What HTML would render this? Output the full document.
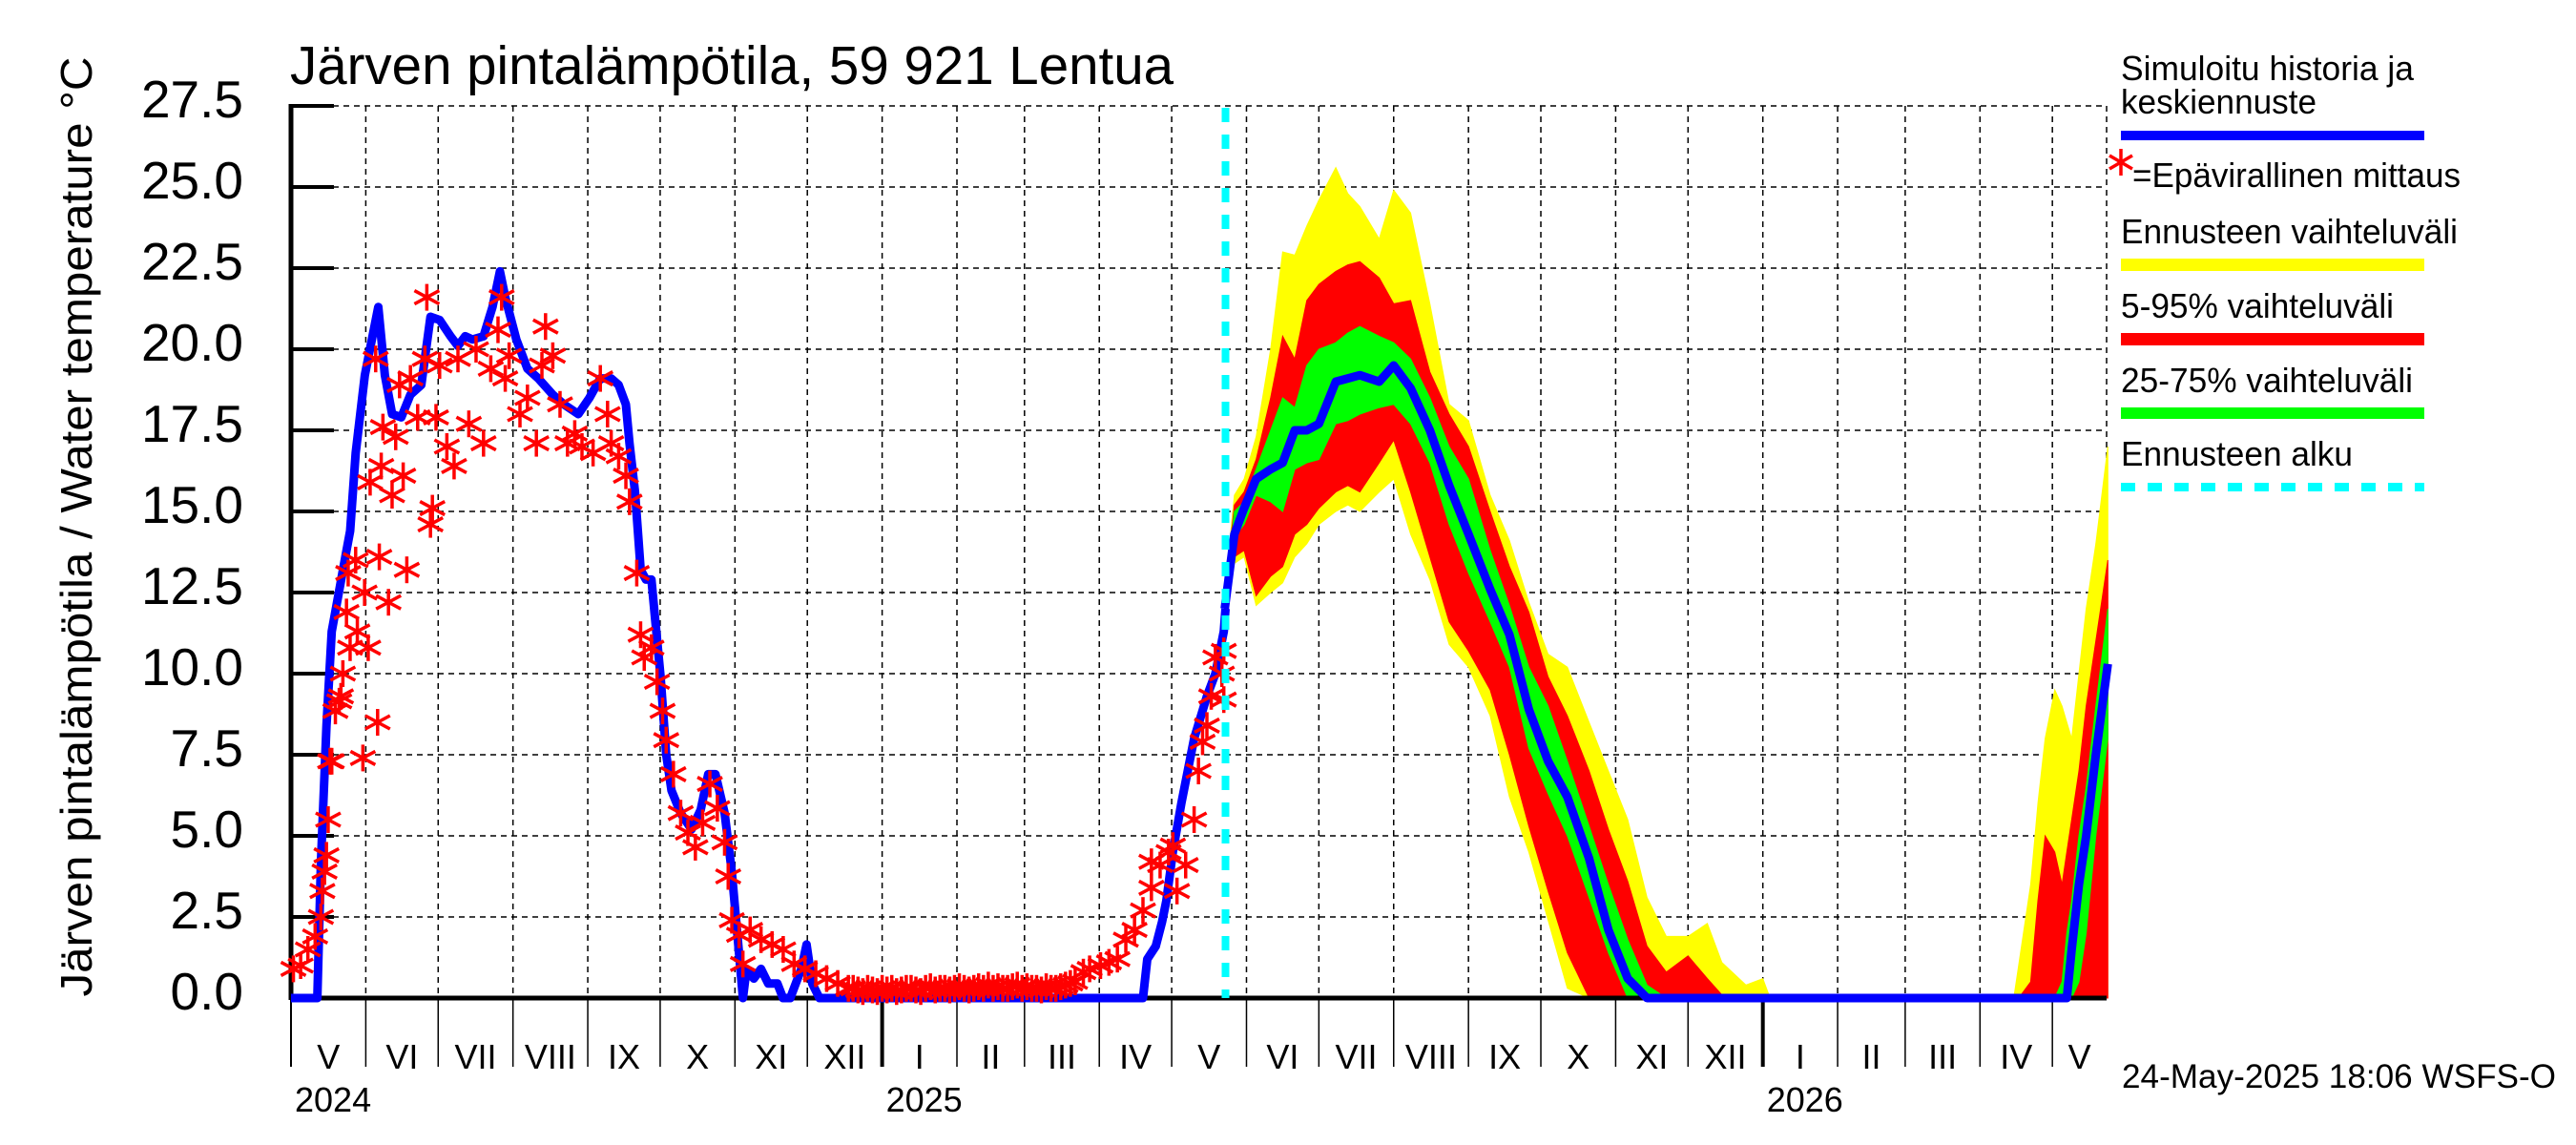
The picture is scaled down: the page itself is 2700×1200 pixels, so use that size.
<!DOCTYPE html>
<html><head><meta charset="utf-8"><style>
html,body{margin:0;padding:0;background:#fff}
svg{display:block}
text{font-family:"Liberation Sans",Arial,sans-serif;fill:#000}
</style></head><body>
<svg id="chart" xmlns="http://www.w3.org/2000/svg" width="2700" height="1200" viewBox="0 0 2700 1200">
<rect x="0" y="0" width="2700" height="1200" fill="#fff"/>
<text x="304" y="88" font-size="57" textLength="926" lengthAdjust="spacingAndGlyphs">Järven pintalämpötila, 59 921 Lentua</text>
<text x="0" y="0" font-size="46" text-anchor="middle" textLength="985" lengthAdjust="spacingAndGlyphs" transform="translate(96,552) rotate(-90)">Järven pintalämpötila / Water temperature °C</text>
<g id="grid"></g>
<g id="bands"></g>
<g id="axes"></g>
<g id="series"></g>
<g id="stars"></g>
<g id="labels"></g>
<line x1="1284.5" y1="113" x2="1284.5" y2="1046" stroke="#00ffff" stroke-width="8" stroke-dasharray="15 13"/>
<text x="2224" y="1140" font-size="35" textLength="455" lengthAdjust="spacingAndGlyphs">24-May-2025 18:06 WSFS-O</text>
<g>
<text x="2223" y="84" font-size="36" textLength="307" lengthAdjust="spacingAndGlyphs">Simuloitu historia ja</text>
<text x="2223" y="119" font-size="36" textLength="205" lengthAdjust="spacingAndGlyphs">keskiennuste</text>
<rect x="2223" y="137" width="318" height="10" fill="#0000ff"/>
<g stroke="#ff0000" stroke-width="3.5">
<line x1="2223" y1="156" x2="2223" y2="184"/><line x1="2211" y1="163" x2="2235" y2="177"/><line x1="2211" y1="177" x2="2235" y2="163"/></g>
<text x="2235" y="196" font-size="36" textLength="344" lengthAdjust="spacingAndGlyphs">=Epävirallinen mittaus</text>
<text x="2223" y="255" font-size="36" textLength="353" lengthAdjust="spacingAndGlyphs">Ennusteen vaihteluväli</text>
<rect x="2223" y="271" width="318" height="13" fill="#ffff00"/>
<text x="2223" y="333" font-size="36" textLength="286" lengthAdjust="spacingAndGlyphs">5-95% vaihteluväli</text>
<rect x="2223" y="349" width="318" height="13" fill="#ff0000"/>
<text x="2223" y="411" font-size="36" textLength="306" lengthAdjust="spacingAndGlyphs">25-75% vaihteluväli</text>
<rect x="2223" y="427" width="318" height="12" fill="#00ff00"/>
<text x="2223" y="488" font-size="36" textLength="243" lengthAdjust="spacingAndGlyphs">Ennusteen alku</text>
<line x1="2223" y1="510.5" x2="2541" y2="510.5" stroke="#00ffff" stroke-width="9" stroke-dasharray="15 13"/>
</g>
</svg>
<script>
// ---- data (days since 2024-05-01) ----
const yTicks = [0, 2.5, 5, 7.5, 10, 12.5, 15, 17.5, 20, 22.5, 25, 27.5];
const yTickLabels = ["0.0","2.5","5.0","7.5","10.0","12.5","15.0","17.5","20.0","22.5","25.0","27.5"];
const monthLabels = ["I","II","III","IV","V","VI","VII","VIII","IX","X","XI","XII"];
const histDays = [0,10.9,12.4,14.7,16.9,23,24.5,26.8,30.6,36.2,38.9,41.9,45.7,49.5,54,57.8,61.6,66.1,69.2,72.2,75.2,79.8,83.5,86.6,88.8,93.4,98,102.5,108.5,113.1,119.1,123.7,128.2,132.7,135.8,138.8,140.3,142.6,144.9,147.1,149.4,150.9,153.2,155.5,157.7,161.5,166,169.8,172.9,175.9,179.7,182.7,185,187.3,188.8,191.8,194.8,197.8,201.6,203.9,206.9,211.5,213.7,216,219,353.1,354.9,358.4,361,362.8,365.5,369,374.3,379.6,383.1,386.6,387.3];
const histVals = [0,0,4.2,8.4,11.3,13.8,14.4,16.8,19.2,21.3,19.2,18,17.9,18.6,18.9,21,20.9,20.4,20.1,20.4,20.3,20.4,21.3,22.4,21.6,20.3,19.4,19.1,18.6,18.3,18,18.5,19.1,19.1,18.9,18.3,17.1,15.6,13.2,12.9,12.9,11.7,9.9,7.5,6.4,5.7,5.2,5.8,6.9,6.9,5.7,3.9,1.95,0,0.9,0.6,0.9,0.45,0.45,0,0,0.9,1.65,0.45,0,0,1.2,1.6,2.35,3,4.5,6,8,9.3,10,11.3,12];
const obsDays = [1,4,7,10,12.4,13,13.9,14.7,15.4,16.9,16.2,18.4,20,20.7,21.5,23,24.5,27.5,32,29.8,35.9,23.7,26.8,30.5,36.6,40.4,48,57.8,58.6,32.8,37.4,41.9,46.5,35.1,38.1,43.4,45,49.5,56.3,55.5,52.5,61.6,60.1,64.6,67.6,69.2,73.7,76.7,79.8,82.8,85.8,87.3,90.4,88.8,94.9,98,101.7,104,105.5,108.5,111.5,114.6,117.6,120.6,125.2,128.2,131.2,132.7,135.8,138.8,140.3,143.3,144.9,146.4,149.4,151.7,154,155.5,158.5,161.5,164.5,167.6,170.6,173.6,176.7,179.7,181.2,182.7,185.7,187.3,190.3,194.8,199.4,204,208.5,213,217.5,222,226.6,231,
233,235,237,239,241,243,245,247,249,251,253,255,257,259,261,263,265,267,269,271,273,275,277,279,281,283,285,287,289,291,293,295,297,299,301,303,305,307,309,311,313,315,317,319,321,323,325,
328.4,331,335.5,339,342.5,346,349.6,353.1,356.6,360.2,363.7,367.2,370.8,374.3,376.1,377.8,379.6,381.4,383.1,385.8,386.6,386.6,356.6,365.5];
const obsVals = [0.9,1.0,1.5,1.9,2.5,3.3,3.9,4.4,5.5,7.3,7.3,8.85,9.15,9.3,10,11.9,10.8,11.3,10.8,7.4,8.5,13.1,13.5,12.5,13.6,12.2,13.2,14.6,15.1,15.9,16.4,15.5,16.1,19.7,17.6,17.3,18.9,19.1,21.6,19.7,17.9,19.5,17.9,17,16.4,19.7,17.7,20,17.1,19.4,20.6,21.6,19.8,19.1,18,18.5,17.1,19.5,20.7,19.8,18.3,17.1,17.4,17,16.8,19.1,18,17.1,16.7,16.1,15.3,13.1,11.2,10.5,10.8,9.75,8.85,7.95,6.9,5.7,5.1,4.65,5.4,6.6,5.85,4.8,3.75,2.4,1.95,1.05,2.1,1.8,1.65,1.5,1.05,0.9,0.75,0.6,0.45,0.3,
0.3,0.25,0.2,0.3,0.25,0.2,0.3,0.25,0.3,0.2,0.25,0.3,0.3,0.25,0.2,0.3,0.35,0.25,0.3,0.3,0.25,0.3,0.35,0.3,0.25,0.3,0.35,0.3,0.4,0.3,0.35,0.3,0.3,0.35,0.4,0.3,0.35,0.3,0.3,0.25,0.35,0.3,0.3,0.35,0.4,0.45,0.5,
0.8,0.9,1.0,1.1,1.2,1.8,2.1,2.7,3.4,4.1,4.5,3.3,4.1,5.5,7,7.9,8.4,9.3,10.5,10,9.2,10.7,4.2,4.7];
const fcDays = [387,391,395,400,406,411,416,421,426,433,438,443,451,457,464,472,480,488,497,505,513,521,529,538,546,554,562,570,579,587,593,603,610,613,700,714,716,721,724,727,731,734,736,738,741,744,748,753];
const fcYHi = [12.5,15.5,16,17.3,20,23,22.9,23.8,24.6,25.6,24.8,24.4,23.4,24.9,24.2,21.4,18.3,17.8,15.5,14.1,12.2,10.6,10.2,8.5,7,5.5,3.1,1.9,1.9,2.3,1.1,0.4,0.6,0,0,0,1,3.5,6,8,9.5,9,8.5,8,10,12,14,17];
const fcRHi = [12.4,15.2,15.6,16.6,18.5,20.4,19.7,21.5,22,22.4,22.6,22.7,22.2,21.4,21.5,19.3,18,17,15,13.3,11.9,9.9,8.7,7,5.2,3.6,1.6,0.8,1.3,0.6,0.1,0,0,0,0,0,0,0.5,3,5,4.5,3.5,4.5,5.5,7,9,11,13.5];
const fcGHi = [12.3,15,15.3,16.3,17.5,18.5,18.2,19.5,20,20.2,20.5,20.7,20.4,20.2,19.7,18.5,17,16,13.8,12.1,10.2,9,7.3,5.3,3.5,1.8,0.4,0,0,0,0,0,0,0,0,0,0,0,0,0,0,0.5,2,3,5,6.5,9,12];
const fcMed = [12,14.3,15.1,16,16.3,16.5,17.5,17.5,17.7,19,19.1,19.2,19,19.5,18.8,17.5,15.8,14.3,12.6,11.2,8.9,7.3,6.2,4.3,2.1,0.6,0,0,0,0,0,0,0,0,0,0,0,0,0,0,0,0,0,1.5,3.5,5,7.5,10.3];
const fcGLo = [11.9,14.2,14.6,15.5,15.3,15,16.3,16.5,16.6,17.7,17.8,18,18.2,18.3,17.7,16.5,14.6,13.1,11.6,10.2,7.7,6.3,5,3.1,1.4,0,0,0,0,0,0,0,0,0,0,0,0,0,0,0,0,0,0,0,0.5,2,5,8];
const fcRLo = [11.8,13.6,13.8,12.4,13,13.3,14.3,14.6,15.1,15.6,15.8,15.6,16.5,17.2,15.6,13.6,11.6,10.7,9.5,7.5,5.3,3.3,1.4,0,0,0,0,0,0,0,0,0,0,0,0,0,0,0,0,0,0,0,0,0,0,0,0,0];
const fcYLo = [11.7,13.4,13.6,12.1,12.5,12.8,13.6,14,14.6,15,15.2,15,15.6,16,14.3,12.9,10.9,10.2,8.7,6.2,4.5,2.4,0.3,0,0,0,0,0,0,0,0,0,0,0,0,0,0,0,0,0,0,0,0,0,0,0,0,0];

// ---- scales ----
const X0 = 305, X1 = 2208, PXD = 2.529, Y0 = 1046, PXV = 34, YTOP = Y0 - 27.5 * PXV;
function xs(d) { return X0 + d * PXD; }
function ys(v) { return Y0 - v * PXV; }
const NS = "http://www.w3.org/2000/svg";
function mk(tag, attrs, parent) {
  const e = document.createElementNS(NS, tag);
  for (const k in attrs) e.setAttribute(k, attrs[k]);
  parent.appendChild(e);
  return e;
}
const grid = document.getElementById("grid"), bands = document.getElementById("bands"),
  axes = document.getElementById("axes"), series = document.getElementById("series"),
  stars = document.getElementById("stars"), labels = document.getElementById("labels");

const start = Date.UTC(2024, 4, 1), END_DAY = 752.5;
const months = [];
for (let i = 0; i < 30; i++) {
  const t = Date.UTC(2024, 4 + i, 1);
  const d = (t - start) / 86400000;
  if (d > END_DAY) break;
  const dt = new Date(t);
  months.push({ d: d, m: dt.getUTCMonth(), y: dt.getUTCFullYear() });
}

yTicks.forEach(function (v) {
  const g = mk("line", { x1: X0, y1: ys(v), x2: X1, y2: ys(v), stroke: "#000", "stroke-width": 1.5, "stroke-dasharray": "6 5" }, grid);
  
  
});
months.forEach(function (mo) {
  if (mo.d === 0) return;
  const g = mk("line", { x1: xs(mo.d), y1: YTOP, x2: xs(mo.d), y2: Y0, stroke: "#000", "stroke-width": 1.5, "stroke-dasharray": "6 5" }, grid);
  
  
});
const rb = mk("line", { x1: X1, y1: YTOP, x2: X1, y2: Y0, stroke: "#000", "stroke-width": 1.5, "stroke-dasharray": "6 5" }, grid);



function band(hi, lo, color, name) {
  let pts = [];
  for (let i = 0; i < fcDays.length; i++) pts.push(xs(fcDays[i]).toFixed(1) + "," + ys(hi[i]).toFixed(1));
  for (let i = fcDays.length - 1; i >= 0; i--) pts.push(xs(fcDays[i]).toFixed(1) + "," + ys(lo[i]).toFixed(1));
  const p = mk("polygon", { points: pts.join(" "), fill: color, stroke: color, "stroke-width": 1 }, bands);
  
  
}
band(fcYHi, fcYLo, "#ffff00", "band-min-max");
band(fcRHi, fcRLo, "#ff0000", "band-5-95");
band(fcGHi, fcGLo, "#00ff00", "band-25-75");

const la = mk("line", { x1: X0, y1: YTOP - 2, x2: X0, y2: 1118, stroke: "#000", "stroke-width": 2 }, axes);


const ya = mk("line", { x1: X0, y1: YTOP - 2, x2: X0, y2: Y0 + 2, stroke: "#000", "stroke-width": 5 }, axes);


const xa = mk("line", { x1: X0, y1: Y0, x2: X1, y2: Y0, stroke: "#000", "stroke-width": 5 }, axes);


yTicks.forEach(function (v, i) {
  const t = mk("line", { x1: X0, y1: ys(v), x2: 350, y2: ys(v), stroke: "#000", "stroke-width": 4 }, axes);
  
  
  const l = mk("text", { x: 255, y: ys(v) + 12, "font-size": 55, "text-anchor": "end" }, labels);
  l.textContent = yTickLabels[i];
  
  
});
months.forEach(function (mo, i) {
  const isYear = mo.m === 0;
  const t = mk("line", { x1: xs(mo.d), y1: Y0, x2: xs(mo.d), y2: 1118, stroke: "#000", "stroke-width": isYear ? 4 : 1.5 }, axes);
  
  
  const nd = i + 1 < months.length ? months[i + 1].d : END_DAY;
  const l = mk("text", { x: xs((mo.d + nd) / 2), y: 1120, "font-size": 36, "text-anchor": "middle" }, labels);
  l.textContent = monthLabels[mo.m];
  
  
  if (isYear || i === 0) {
    const yl = mk("text", { x: xs(mo.d) + 4, y: 1165, "font-size": 36 }, labels);
    yl.textContent = String(mo.y);
    
    
  }
});

function poly(days, vals, name) {
  const pts = days.map(function (d, i) { return xs(d).toFixed(1) + "," + ys(vals[i]).toFixed(1); }).join(" ");
  const p = mk("polyline", { points: pts, fill: "none", stroke: "#0000ff", "stroke-width": 9, "stroke-linejoin": "round" }, series);
  
  
}
poly(histDays, histVals, "simulated-history-line");
poly(fcDays, fcMed, "forecast-median-line");

obsDays.forEach(function (d, i) {
  const cx = xs(d), cy = ys(obsVals[i]);
  const g = mk("g", { stroke: "#ff0000", "stroke-width": 3.5 }, stars);
  
  
  mk("line", { x1: cx, y1: cy - 14, x2: cx, y2: cy + 14 }, g);
  mk("line", { x1: cx - 13, y1: cy - 7, x2: cx + 13, y2: cy + 7 }, g);
  mk("line", { x1: cx - 13, y1: cy + 7, x2: cx + 13, y2: cy - 7 }, g);
});
</script>
</body></html>
